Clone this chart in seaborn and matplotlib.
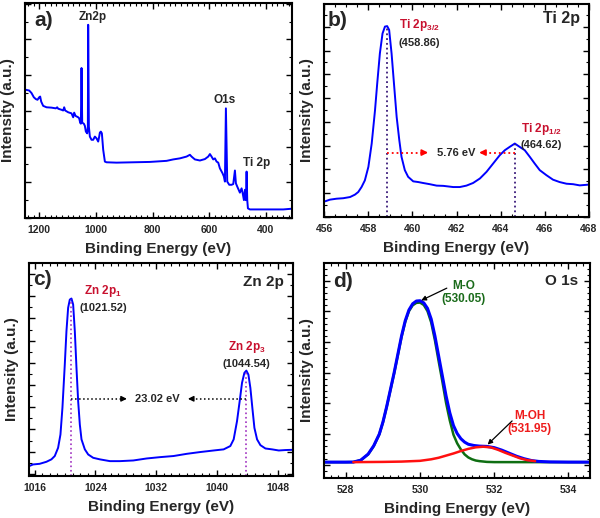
import numpy as np
import pandas as pd
import matplotlib
matplotlib.use("Agg")
import matplotlib.pyplot as plt
from matplotlib.ticker import MultipleLocator, NullFormatter
import seaborn as sns

# ---------------- data ----------------
# a) survey spectrum
survey_be = [1247.1, 1235.3, 1227.1, 1218.8, 1211.8, 1205.9, 1200.0, 1196.5, 1192.9, 1185.9,
             1174.1, 1156.5, 1141.2, 1136.5, 1132.9, 1121.2, 1115.3, 1111.8, 1108.2, 1097.6,
             1085.9, 1080.0, 1076.5, 1071.8, 1062.4, 1058.8, 1055.3, 1052.9, 1050.6, 1048.2,
             1042.4, 1038.8, 1035.3, 1030.6, 1028.2, 1027.1, 1024.7, 1021.2, 1015.3, 1009.4,
             1003.5, 997.6, 991.8, 988.2, 985.9, 982.4, 978.8, 974.1, 968.2, 962.4,
             927.1, 868.2, 809.4, 750.6, 727.1, 703.5, 680.0, 668.2, 662.4, 650.6,
             632.9, 615.3, 603.5, 597.6, 591.8, 585.9, 580.0, 574.1, 568.2, 562.4,
             552.9, 548.2, 544.7, 541.2, 536.5, 529.4, 521.2, 515.3, 509.4, 505.9,
             501.2, 491.8, 485.9, 482.4, 477.6, 474.1, 470.6, 468.2, 465.9, 463.5,
             456.5, 397.6, 338.8, 308.2]
survey_int = [3.59, 3.57, 3.50, 3.38, 3.33, 3.31, 3.38, 3.40, 3.26, 3.14,
              3.10, 3.09, 3.07, 3.10, 3.06, 3.03, 3.01, 3.10, 3.01, 2.96,
              2.93, 2.82, 2.95, 2.86, 2.82, 2.79, 2.67, 2.64, 4.20, 2.67,
              2.64, 2.58, 2.42, 2.37, 2.56, 5.41, 2.56, 2.28, 2.19, 2.19,
              2.28, 2.23, 2.14, 2.28, 2.39, 2.42, 2.37, 1.91, 1.58, 1.56,
              1.55, 1.56, 1.57, 1.60, 1.64, 1.67, 1.72, 1.77, 1.72, 1.64,
              1.61, 1.65, 1.72, 1.79, 1.72, 1.64, 1.67, 1.58, 1.55, 1.39,
              1.25, 1.16, 1.02, 3.07, 1.02, 0.93, 0.93, 0.95, 1.33, 0.97,
              0.88, 0.71, 0.83, 0.71, 0.50, 0.79, 0.50, 1.30, 0.50, 0.27,
              0.24, 0.24, 0.24, 0.26]
survey_labels = ["Zn2p", "O1s", "Ti 2p"]
survey_label_be = [1011.8, 544.7, 433.0]
survey_label_int = [5.64, 3.31, 1.53]

# b) Ti 2p
ti_be = [456.05, 456.27, 456.57, 456.87, 457.18, 457.40, 457.55, 457.70, 457.85, 458.01,
         458.16, 458.31, 458.41, 458.53, 458.65, 458.76, 458.86, 458.95, 459.06, 459.18,
         459.29, 459.41, 459.51, 459.66, 459.81, 460.04, 460.27, 460.49, 460.79, 461.10,
         461.40, 461.85, 462.15, 462.45, 462.75, 463.06, 463.36, 463.66, 463.96, 464.19,
         464.41, 464.64, 464.86, 465.09, 465.32, 465.54, 465.77, 466.07, 466.37, 466.67,
         466.98, 467.28, 467.58, 467.96]
ti_int = [0.66, 0.73, 0.77, 0.79, 0.84, 0.94, 1.05, 1.26, 1.54, 2.11,
          3.09, 4.49, 5.62, 6.88, 7.72, 8.01, 8.03, 7.87, 6.88, 5.48,
          4.21, 3.23, 2.53, 1.97, 1.69, 1.50, 1.47, 1.43, 1.38, 1.32,
          1.31, 1.26, 1.26, 1.32, 1.43, 1.62, 1.90, 2.25, 2.60, 2.81,
          2.95, 3.09, 2.95, 2.81, 2.53, 2.25, 1.97, 1.76, 1.57, 1.47,
          1.40, 1.38, 1.33, 1.36]
ti_peaks = [458.86, 464.64]
ti_peak_int = [8.03, 3.09]
ti_peak_names = [r"Ti 2p$_{3/2}$", r"Ti 2p$_{1/2}$"]
ti_peak_texts = ["(458.86)", "(464.62)"]
ti_split = "5.76 eV"

# c) Zn 2p
zn_be = [1015.30, 1015.78, 1016.66, 1017.54, 1018.20, 1018.64, 1019.08, 1019.39, 1019.65, 1019.96,
         1020.18, 1020.40, 1020.62, 1020.84, 1021.06, 1021.28, 1021.50, 1021.72, 1021.94, 1022.16,
         1022.60, 1023.04, 1023.70, 1024.58, 1025.90, 1027.22, 1028.98, 1030.74, 1032.50, 1034.27,
         1036.03, 1037.79, 1039.55, 1040.87, 1041.75, 1042.19, 1042.63, 1042.98, 1043.29, 1043.60,
         1043.86, 1044.13, 1044.39, 1044.65, 1044.92, 1045.27, 1045.71, 1046.37, 1047.25, 1048.13,
         1049.01, 1049.93]
zn_int = [0.35, 0.42, 0.45, 0.54, 0.65, 0.80, 1.17, 1.77, 2.97, 4.92,
          6.43, 7.48, 7.85, 7.90, 7.63, 6.43, 4.77, 3.27, 2.22, 1.55,
          1.10, 0.87, 0.72, 0.65, 0.57, 0.57, 0.60, 0.69, 0.75, 0.80,
          0.90, 0.98, 1.05, 1.10, 1.25, 1.55, 2.37, 3.27, 4.10, 4.55,
          4.65, 4.47, 3.87, 2.97, 2.07, 1.55, 1.29, 1.14, 1.10, 1.05,
          1.07, 1.08]
zn_peaks = [1020.84, 1043.86]
zn_peak_int = [7.90, 4.65]
zn_peak_names = [r"Zn 2p$_1$", r"Zn 2p$_3$"]
zn_peak_texts = ["(1021.52)", "(1044.54)"]
zn_split = "23.02 eV"

# d) O 1s : envelope, M-O and M-OH components
o_env_be = [527.41, 528.00, 528.20, 528.40, 528.60, 528.75, 528.90, 529.00, 529.10, 529.20,
            529.30, 529.40, 529.50, 529.60, 529.70, 529.80, 529.90, 530.00, 530.10, 530.20,
            530.30, 530.40, 530.50, 530.60, 530.70, 530.80, 530.90, 531.00, 531.10, 531.20,
            531.30, 531.45, 531.60, 531.80, 532.00, 532.20, 532.40, 532.60, 532.80, 533.00,
            533.20, 533.50, 534.00, 534.58]
o_env_int = [0.087, 0.087, 0.09, 0.15, 0.35, 0.62, 1.00, 1.40, 1.90, 2.45,
             3.00, 3.60, 4.20, 4.70, 5.05, 5.25, 5.34, 5.35, 5.28, 5.10,
             4.75, 4.20, 3.55, 2.90, 2.25, 1.70, 1.28, 1.02, 0.85, 0.74,
             0.67, 0.63, 0.61, 0.60, 0.56, 0.48, 0.38, 0.28, 0.20, 0.14,
             0.11, 0.095, 0.088, 0.087]
o_mo_be = [527.41, 528.00, 528.20, 528.40, 528.60, 528.75, 528.90, 529.00, 529.10, 529.20,
           529.30, 529.40, 529.50, 529.60, 529.70, 529.80, 529.90, 530.00, 530.10, 530.20,
           530.30, 530.40, 530.50, 530.60, 530.70, 530.80, 530.90, 531.00, 531.10, 531.20,
           531.30, 531.40, 531.50, 531.60, 531.80, 532.00, 533.00, 534.58]
o_mo_int = [0.087, 0.087, 0.09, 0.15, 0.34, 0.61, 0.99, 1.39, 1.89, 2.43,
            2.98, 3.57, 4.17, 4.66, 5.01, 5.20, 5.28, 5.29, 5.21, 5.01,
            4.64, 4.06, 3.38, 2.72, 2.02, 1.45, 0.98, 0.70, 0.50, 0.34,
            0.24, 0.18, 0.14, 0.12, 0.095, 0.088, 0.087, 0.087]
o_moh_be = [528.20, 529.00, 529.50, 530.00, 530.30, 530.50, 530.70, 530.90, 531.10, 531.30,
            531.50, 531.70, 531.90, 532.10, 532.30, 532.50, 532.70, 532.90, 533.10]
o_moh_int = [0.087, 0.095, 0.105, 0.13, 0.18, 0.23, 0.30, 0.37, 0.45, 0.52,
             0.57, 0.59, 0.57, 0.49, 0.39, 0.30, 0.21, 0.15, 0.12]
o_names = ["M-O\n(530.05)", "M-OH\n(531.95)"]

# ---------------- style ----------------
sns.set_style("ticks")
plt.rcParams["font.family"] = ["Liberation Sans", "DejaVu Sans"]
plt.rcParams["font.weight"] = "bold"
plt.rcParams["mathtext.default"] = "regular"
plt.rcParams["axes.linewidth"] = 1.5

BLUE = "#0000FF"
DRED = "#C8102E"

fig = plt.figure(figsize=(6.0, 5.18), dpi=100)
W, H = 600.0, 518.0
def box(l, r, t, b):
    return [l / W, 1 - b / H, (r - l) / W, (b - t) / H]

axa = fig.add_axes(box(25, 292, 3, 218))
axb = fig.add_axes(box(324, 589, 4, 217))
axc = fig.add_axes(box(29, 293, 263, 476))
axd = fig.add_axes(box(324, 590, 263, 478))

def style(ax, xmaj, xmin, ymaj, ymin):
    ax.xaxis.set_major_locator(MultipleLocator(xmaj))
    ax.xaxis.set_minor_locator(MultipleLocator(xmin))
    ax.yaxis.set_major_locator(MultipleLocator(ymaj))
    ax.yaxis.set_minor_locator(MultipleLocator(ymin))
    ax.yaxis.set_major_formatter(NullFormatter())
    ax.tick_params(which="both", direction="in", top=True, right=True, color="black")
    ax.tick_params(which="major", length=4, width=1.0, labelsize=7.5, pad=5)
    ax.tick_params(which="minor", length=2.2, width=0.8)
    for lab in ax.get_xticklabels():
        lab.set_fontweight("bold")
    ax.set_xlabel("Binding Energy (eV)", fontsize=11, fontweight="bold", labelpad=5)
    ax.set_ylabel("Intensity (a.u.)", fontsize=11, fontweight="bold", labelpad=2)
    for s in ax.spines.values():
        s.set_linewidth(1.5)
        s.set_color("black")

def panel_letter(ax, txt, x, y):
    ax.text(x, y, txt, transform=ax.transAxes, fontsize=15, fontweight="bold",
            ha="left", va="top")

# ---------- a) ----------
sns.lineplot(x=survey_be, y=survey_int, ax=axa, color=BLUE, lw=1.4, sort=False, estimator=None)
axa.set_xlim(1250, 308)
axa.set_ylim(0, 6.02)
style(axa, 200, 20, 1, 0.5)
panel_letter(axa, "a)", 0.035, 0.965)
for t, xv, yv in zip(survey_labels, survey_label_be, survey_label_int):
    axa.text(xv, yv, t, ha="center", va="center", fontsize=8.5, fontweight="bold")

# ---------- b) ----------
sns.lineplot(x=ti_be, y=ti_int, ax=axb, color=BLUE, lw=1.4, sort=False, estimator=None)
axb.set_xlim(456, 468)
axb.set_ylim(0, 8.96)
style(axb, 2, 0.5, 1, 0.5)
panel_letter(axb, "b)", 0.012, 0.965)
axb.text(0.965, 0.93, "Ti 2p", transform=axb.transAxes, ha="right", va="center",
         fontsize=11.5, fontweight="bold")
for pk, pi in zip(ti_peaks, ti_peak_int):
    axb.plot([pk, pk], [0, pi], ls=":", color="#3A1A7A", lw=1.3)
lvl = 2.71
axb.plot([ti_peaks[0], 460.6], [lvl, lvl], ls=":", color="red", lw=1.3)
axb.plot([ti_peaks[1], 463.1], [lvl, lvl], ls=":", color="red", lw=1.3)
axb.annotate("", xy=(460.84, lvl), xytext=(460.4, lvl),
             arrowprops=dict(arrowstyle="-|>", color="red", lw=1.2, mutation_scale=9))
axb.annotate("", xy=(462.9, lvl), xytext=(463.35, lvl),
             arrowprops=dict(arrowstyle="-|>", color="red", lw=1.2, mutation_scale=9))
axb.text(461.97, lvl, ti_split, ha="center", va="center", fontsize=8, fontweight="bold")
axb.text(459.39, 8.08, ti_peak_names[0], ha="left", va="center", fontsize=8.5,
         fontweight="bold", color=DRED)
axb.text(459.39, 7.30, ti_peak_texts[0], ha="left", va="center", fontsize=8, fontweight="bold")
axb.text(464.91, 3.72, ti_peak_names[1], ha="left", va="center", fontsize=8.5,
         fontweight="bold", color=DRED)
axb.text(464.91, 3.02, ti_peak_texts[1], ha="left", va="center", fontsize=8, fontweight="bold")

# ---------- c) ----------
sns.lineplot(x=zn_be, y=zn_int, ax=axc, color=BLUE, lw=1.4, sort=False, estimator=None)
axc.set_xlim(1015.25, 1050.0)
axc.set_ylim(-0.1, 9.5)
style(axc, 8, 1, 1, 0.5)
panel_letter(axc, "c)", 0.015, 0.965)
axc.text(0.965, 0.91, "Zn 2p", transform=axc.transAxes, ha="right", va="center",
         fontsize=11, fontweight="bold")
for pk, pi in zip(zn_peaks, zn_peak_int):
    axc.plot([pk, pk], [-0.1, pi], ls=":", color="#A030C0", lw=1.2)
lvl = 3.38
axc.plot([zn_peaks[0], 1028.0], [lvl, lvl], ls=":", color="black", lw=1.1)
axc.plot([zn_peaks[1], 1036.3], [lvl, lvl], ls=":", color="black", lw=1.1)
axc.annotate("", xy=(1028.5, lvl), xytext=(1027.3, lvl),
             arrowprops=dict(arrowstyle="-|>", color="black", lw=1.0, mutation_scale=8))
axc.annotate("", xy=(1035.8, lvl), xytext=(1037.0, lvl),
             arrowprops=dict(arrowstyle="-|>", color="black", lw=1.0, mutation_scale=8))
axc.text(1032.15, lvl, zn_split, ha="center", va="center", fontsize=8, fontweight="bold")
axc.text(1025.0, 8.23, zn_peak_names[0], ha="center", va="center", fontsize=8.5,
         fontweight="bold", color=DRED)
axc.text(1025.0, 7.48, zn_peak_texts[0], ha="center", va="center", fontsize=8, fontweight="bold")
axc.text(1043.95, 5.71, zn_peak_names[1], ha="center", va="center", fontsize=8.5,
         fontweight="bold", color=DRED)
axc.text(1043.9, 4.95, zn_peak_texts[1], ha="center", va="center", fontsize=8, fontweight="bold")

# ---------- d) ----------
sns.lineplot(x=o_mo_be, y=o_mo_int, ax=axd, color="#0E6E12", lw=1.8, sort=False, estimator=None)
sns.lineplot(x=o_env_be, y=o_env_int, ax=axd, color=BLUE, lw=2.2, sort=False, estimator=None)
sns.lineplot(x=o_moh_be, y=o_moh_int, ax=axd, color="#FF1010", lw=1.8, sort=False, estimator=None)
axd.set_xlim(527.41, 534.58)
axd.set_ylim(-0.43, 6.58)
style(axd, 2, 0.2, 1, 0.2)
panel_letter(axd, "d)", 0.035, 0.96)
axd.text(0.955, 0.915, "O 1s", transform=axd.transAxes, ha="right", va="center",
         fontsize=11, fontweight="bold")
axd.text(531.17, 5.62, o_names[0], ha="center", va="center", fontsize=8.5,
         fontweight="bold", color="#1A6B1A", linespacing=1.1)
axd.annotate("", xy=(530.03, 5.36), xytext=(530.72, 5.76),
             arrowprops=dict(arrowstyle="-|>", color="black", lw=0.9, mutation_scale=7,
                             shrinkA=0, shrinkB=0))
axd.text(532.95, 1.39, o_names[1], ha="center", va="center", fontsize=8.5,
         fontweight="bold", color="#EE1C1C", linespacing=1.1)
axd.annotate("", xy=(531.82, 0.66), xytext=(532.48, 1.43),
             arrowprops=dict(arrowstyle="-|>", color="black", lw=0.9, mutation_scale=7,
                             shrinkA=0, shrinkB=0))

for ax in (axa, axb, axc, axd):
    leg = ax.get_legend()
    if leg is not None:
        leg.remove()

fig.savefig("out.png", dpi=100)
